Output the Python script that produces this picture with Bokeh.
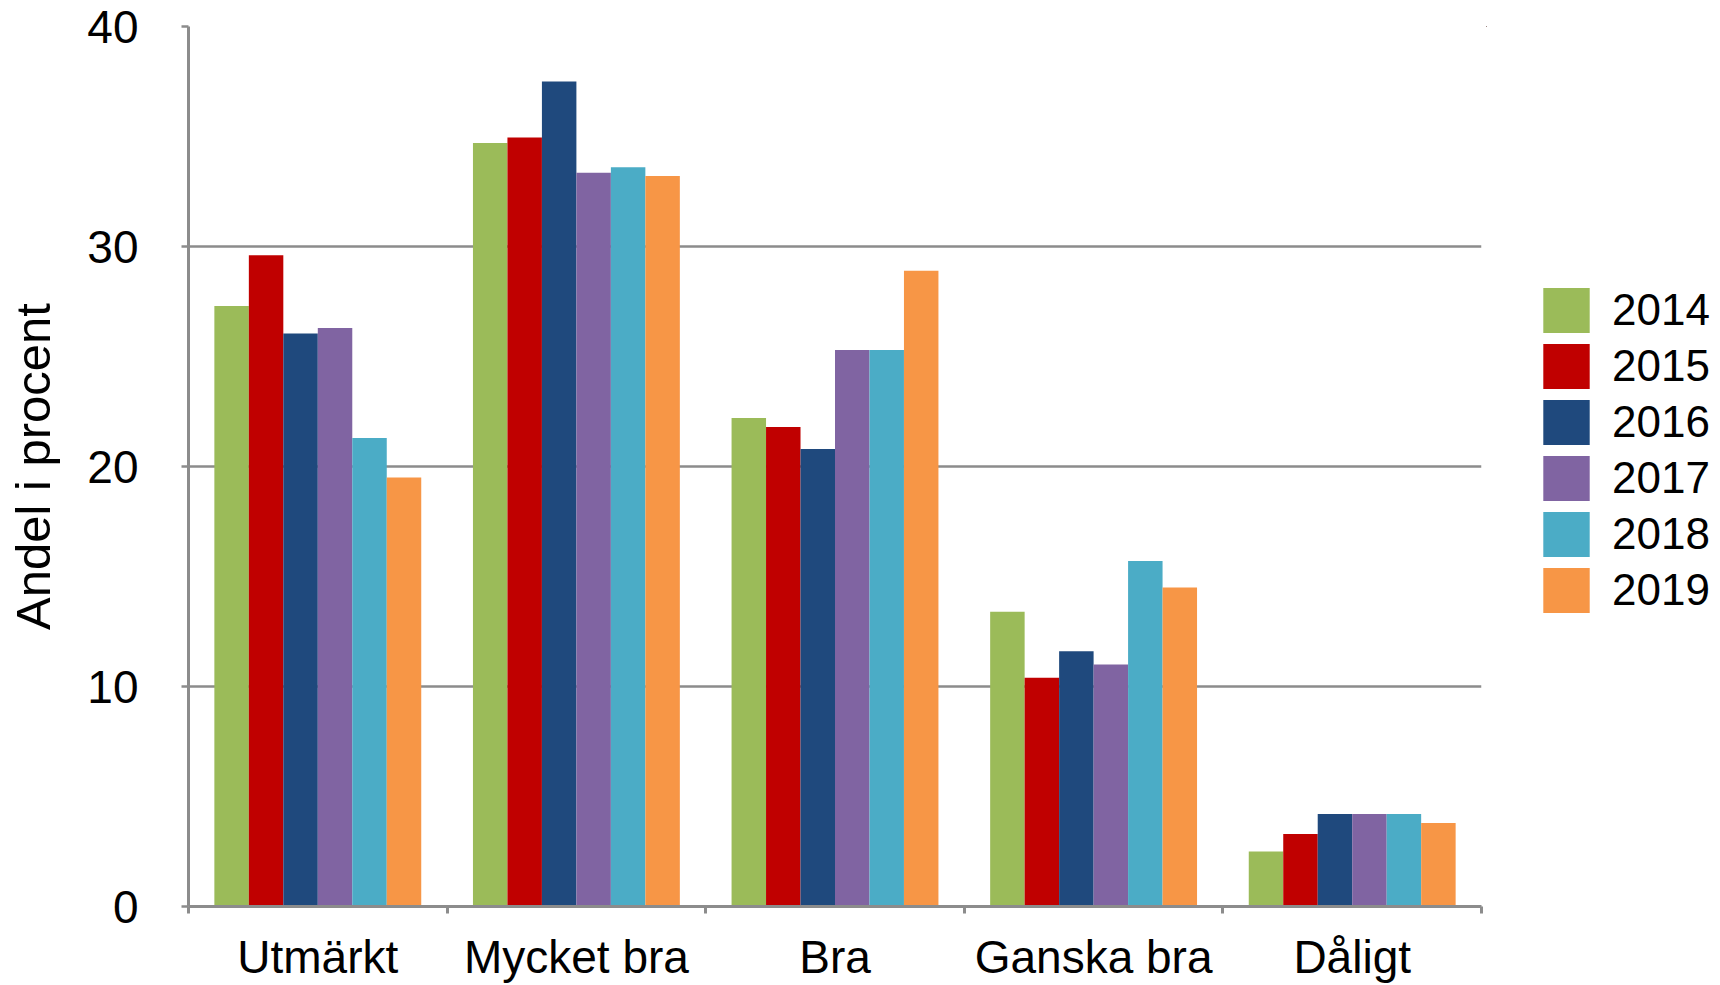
from bokeh.plotting import figure
from bokeh.models import (ColumnDataSource, Range1d, FixedTicker, Legend, LegendItem)
from bokeh.layouts import row
from bokeh.transform import dodge
from bokeh.embed import file_html
from bokeh.resources import INLINE

categories = ["Utmärkt", "Mycket bra", "Bra", "Ganska bra", "Dåligt"]
years = ["2014", "2015", "2016", "2017", "2018", "2019"]
v2014 = [27.3, 34.7, 22.2, 13.4, 2.5]
v2015 = [29.6, 34.95, 21.8, 10.4, 3.3]
v2016 = [26.05, 37.5, 20.8, 11.6, 4.2]
v2017 = [26.3, 33.35, 25.3, 11.0, 4.2]
v2018 = [21.3, 33.6, 25.3, 15.7, 4.2]
v2019 = [19.5, 33.2, 28.9, 14.5, 3.8]
colors = ["#9BBB59", "#C00000", "#1F497D", "#8064A2", "#4BACC6", "#F79646"]
y_ticks = [0, 10, 20, 30, 40]

series = [v2014, v2015, v2016, v2017, v2018, v2019]
centers = [i + 0.5 for i in range(len(categories))]
data = {"x": centers}
for yr, vals in zip(years, series):
    data["y" + yr] = vals
src = ColumnDataSource(data)

FONT = "Liberation Sans"
GRAY = "#8C8C8C"
H = 985

p = figure(width=1486, height=H, output_backend="svg", toolbar_location=None,
           x_range=Range1d(0, len(categories)), y_range=Range1d(0, 40),
           min_border_left=188, min_border_top=26, min_border_right=5,
           min_border_bottom=79)
p.outline_line_color = None
p.background_fill_color = "white"
p.border_fill_color = "white"

n = len(years)
group_frac = 0.8
bw = group_frac / n
for j, yr in enumerate(years):
    off = (j - (n - 1) / 2) * bw
    p.vbar(x=dodge("x", off, range=p.x_range), top="y" + yr, bottom=0,
           width=bw, source=src, fill_color=colors[j], line_color=None)

# x axis: labels at group centers, ticks at group boundaries
xa = p.xaxis[0]
xa.ticker = FixedTicker(ticks=centers, minor_ticks=list(range(len(categories) + 1)))
xa.major_label_overrides = {c: lab for c, lab in zip(centers, categories)}
xa.major_tick_out = 0
xa.major_tick_in = 0
xa.minor_tick_out = 7
xa.minor_tick_in = 0
xa.minor_tick_line_color = GRAY
xa.minor_tick_line_width = 3
xa.axis_line_color = GRAY
xa.axis_line_width = 3
xa.major_label_text_font = FONT
xa.major_label_text_font_size = "46px"
xa.major_label_text_color = "black"
xa.major_label_standoff = 17

ya = p.yaxis[0]
ya.ticker = FixedTicker(ticks=y_ticks, minor_ticks=[])
ya.major_tick_out = 7
ya.major_tick_in = 0
ya.major_tick_line_color = GRAY
ya.major_tick_line_width = 2.5
ya.minor_tick_line_color = None
ya.axis_line_color = GRAY
ya.axis_line_width = 3
ya.major_label_text_font = FONT
ya.major_label_text_font_size = "46px"
ya.major_label_text_color = "black"
ya.major_label_standoff = 43
ya.axis_label = "Andel i procent"
ya.axis_label_text_font = FONT
ya.axis_label_text_font_size = "49px"
ya.axis_label_text_font_style = "normal"
ya.axis_label_text_color = "black"
ya.axis_label_standoff = 24

p.xgrid.grid_line_color = None
p.ygrid.grid_line_color = GRAY
p.ygrid.grid_line_width = 2.5
p.ygrid.ticker = FixedTicker(ticks=y_ticks)

# legend panel to the right of the plot area (its own swatch renderers are
# zero-height bars lying outside its view, so only the legend shows)
pl = figure(width=226, height=H, output_backend="svg", toolbar_location=None,
            x_range=Range1d(100, 101), y_range=Range1d(-2, -1),
            x_axis_location=None, y_axis_location=None, min_border=0)
pl.outline_line_color = None
pl.xgrid.grid_line_color = None
pl.ygrid.grid_line_color = None
items = []
for j, yr in enumerate(years):
    off = (j - (n - 1) / 2) * bw
    r = pl.vbar(x=dodge("x", off, range=pl.x_range), top="y" + yr,
                bottom="y" + yr, width=bw, source=src,
                fill_color=colors[j], line_color=None)
    items.append(LegendItem(label=yr, renderers=[r]))

legend = Legend(items=items, location=(51, 288))
legend.border_line_color = None
legend.background_fill_alpha = 0
legend.padding = 0
legend.margin = 0
legend.spacing = 0
legend.glyph_width = 58
legend.glyph_height = 56
legend.label_standoff = 17
legend.label_text_font = FONT
legend.label_text_font_size = "44px"
legend.label_text_color = "black"
pl.add_layout(legend)

layout = row(p, pl, spacing=0)
open("out.html", "w").write(file_html(layout, INLINE))
